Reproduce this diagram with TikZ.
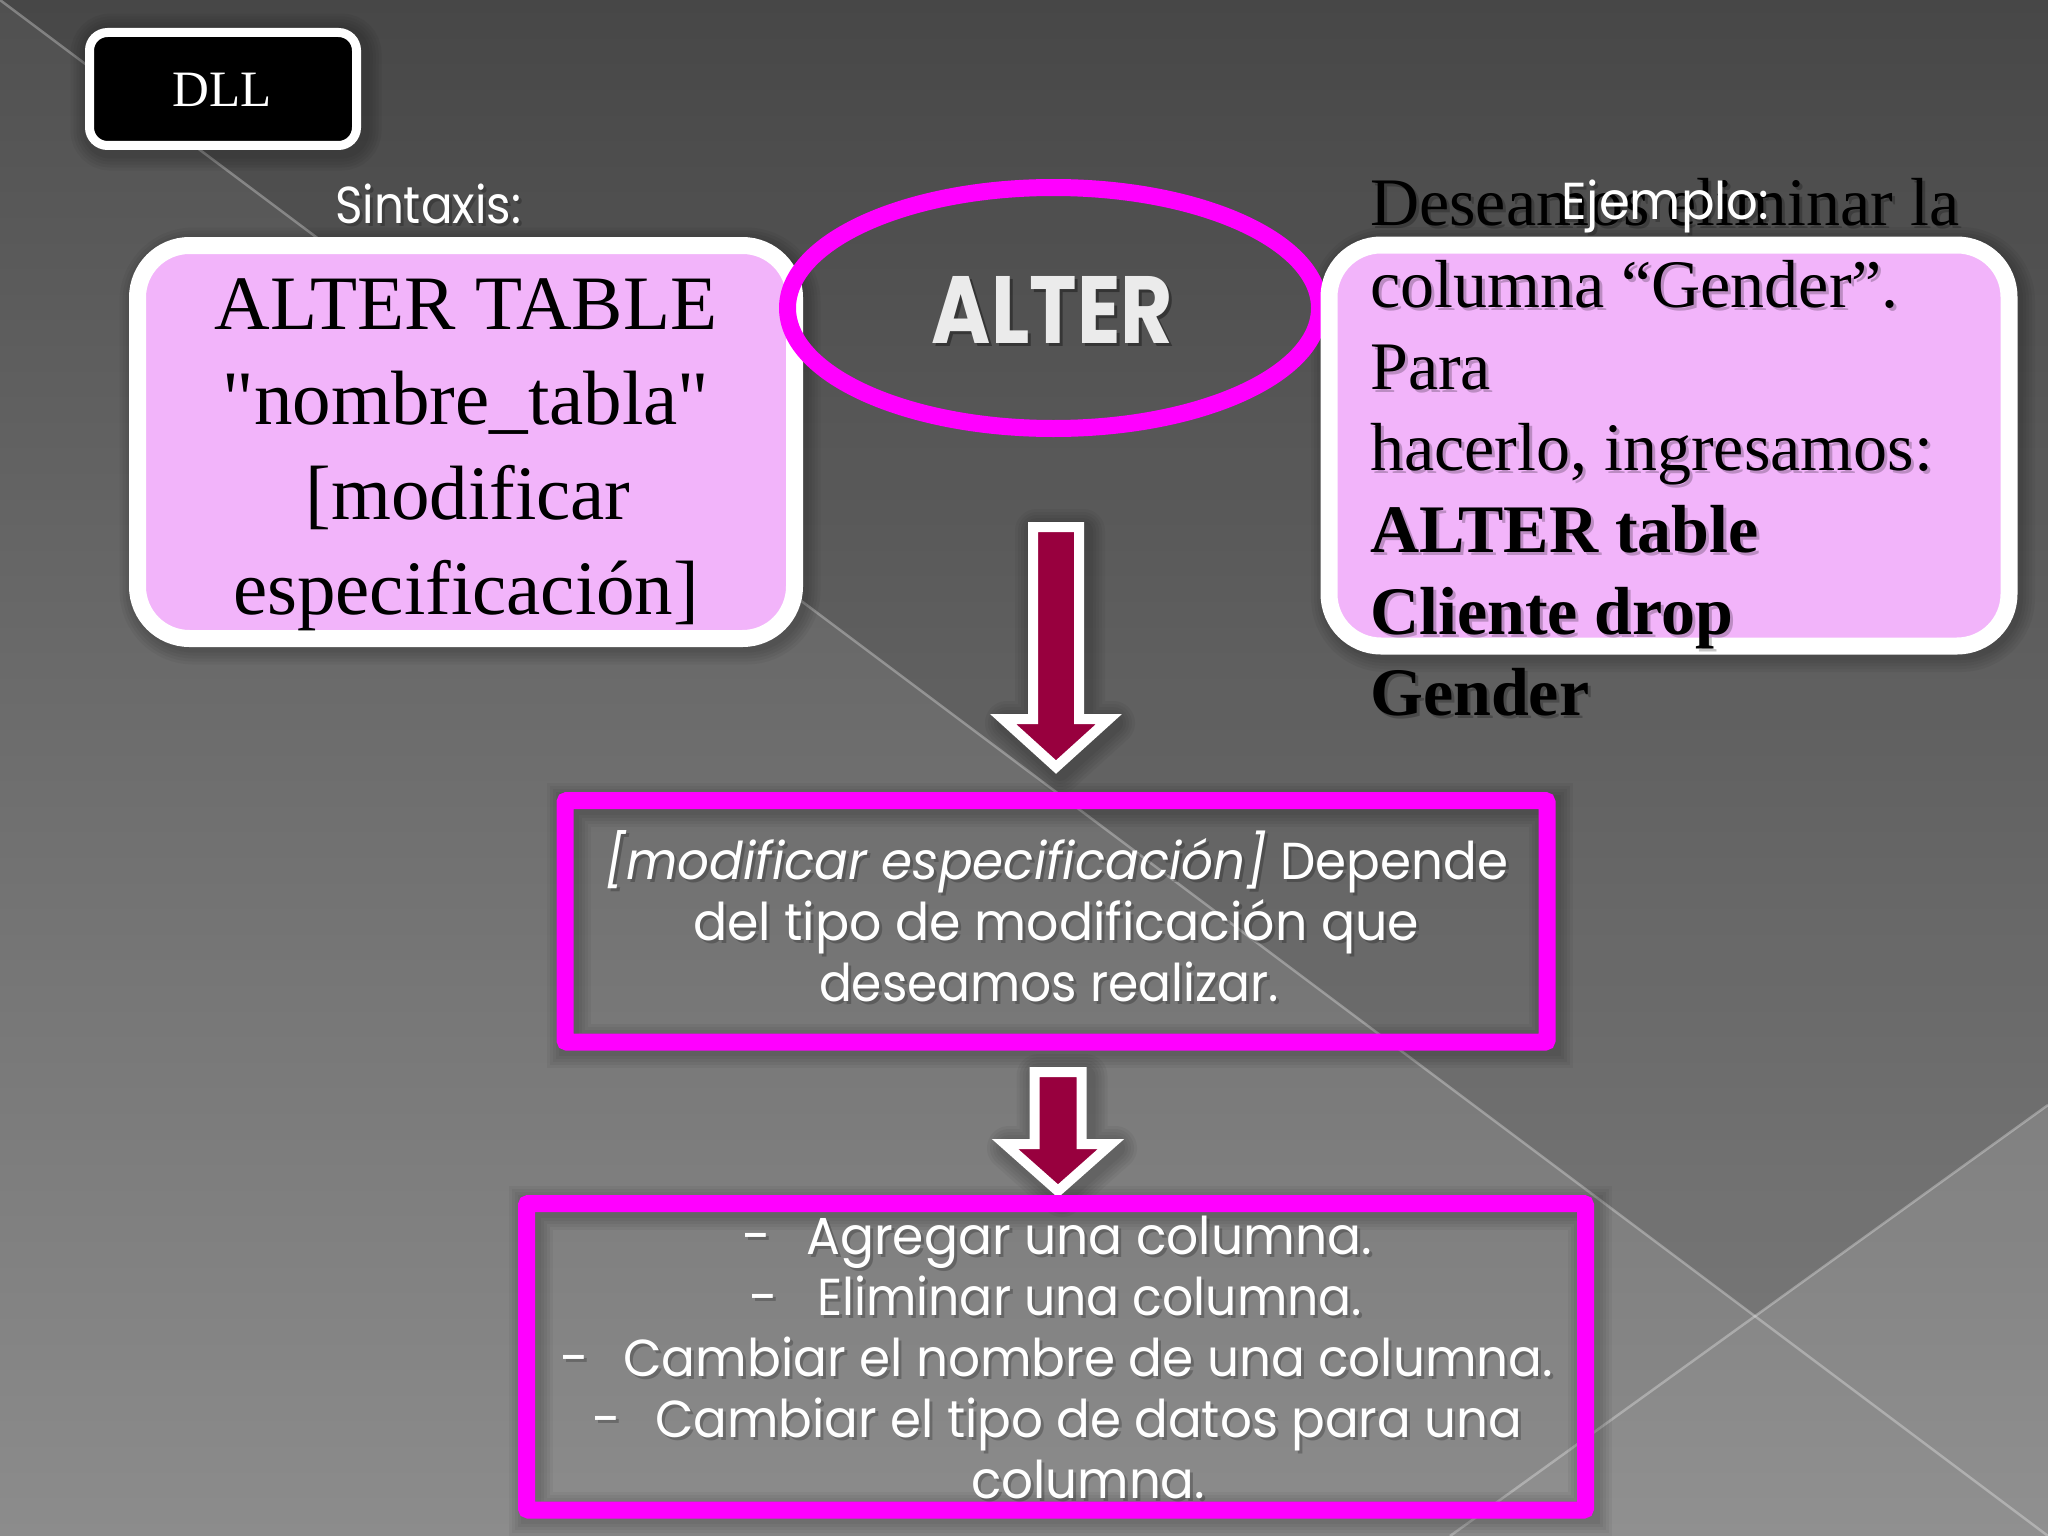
\documentclass[tikz,border=0pt]{standalone}
\usepackage{fontspec}
\usepackage{graphicx}
\setmainfont{Liberation Serif}
\newfontfamily\gothic{Poppins}
\usetikzlibrary{shapes.geometric}
\definecolor{pinkfill}{RGB}{242,180,250}
\definecolor{mag}{RGB}{255,0,255}
\definecolor{arrowred}{RGB}{152,0,62}
\definecolor{bgtop}{RGB}{80,80,80}
\definecolor{bgmid}{RGB}{104,104,104}
\definecolor{bgbot}{RGB}{140,140,140}
\newlength\tmpw
\newcommand\fitx[2]{\settowidth\tmpw{#2}\scalebox{\fpeval{#1/(\the\tmpw)}}[1]{#2}}
% text with a soft shadow: #1 style, #2 name, #3 x, #4 y, #5 text
\newcommand\shtext[5]{%
  \node[#1, text=black, opacity=0.22] (#2sh) at (#3+3,#4+3) {#5};
  \node[#1] (#2) at (#3,#4) {#5};}
\tikzset{
  pinkbox/.style={fill=pinkfill, draw=white, line width=17pt, rounded corners=52pt, inner sep=0pt},
  magbox/.style={draw=mag, line width=17pt, rounded corners=2pt, inner sep=0pt},
  blockarrow/.style={fill=arrowred, draw=white, line width=10pt, line join=miter},
  bgline/.style={draw=white, opacity=0.3, line width=2.5pt},
  softsh/.style={draw=black, opacity=0.045, line width=#1},
  serifbig/.style={inner sep=0pt, anchor=base, text=black, font=\fontsize{77pt}{92pt}\selectfont},
  serifmid/.style={inner sep=0pt, anchor=base west, text=black, font=\fontsize{68pt}{82pt}\selectfont},
  goth/.style={inner sep=0pt, text=white, font=\gothic\fontsize{52pt}{62pt}\selectfont},
}
\begin{document}
\begin{tikzpicture}[x=1pt,y=-1pt]
\useasboundingbox (0,0) rectangle (2048,1536);
% background
\shade[top color=bgtop, middle color=bgmid, bottom color=bgbot] (0,0) rectangle (2048,1536);
\fill[black, opacity=0.10] (0,0) -- (2048,0) -- (2048,1105) -- (1755,1316) -- cycle;
\fill[white, opacity=0.04] (1450,1536) -- (2048,1105) -- (2048,1536) -- cycle;
\draw[bgline] (0,0) -- (2048,1536);
\draw[bgline] (2048,1105) -- (1450,1536);

% soft shadows behind the shapes
\foreach \w in {20,26,32,38,44} {
  \draw[softsh=\w pt, rounded corners=18pt] (92.5,35.5) rectangle (359.5,148.5);
  \draw[softsh=\w pt, rounded corners=52pt] (141.5,249.5) rectangle (798.5,642.5);
  \draw[softsh=\w pt, rounded corners=52pt] (1333,249) rectangle (2013,650);
  \draw[softsh=\w pt] (569,804.5) rectangle (1551,1046);
  \draw[softsh=\w pt] (530.5,1207.5) rectangle (1589.5,1514);
  \draw[softsh=\w pt, line join=round] (1037,531) -- (1083,531) -- (1083,723) -- (1113,723) -- (1060,771) -- (1007,723) -- (1037,723) -- cycle;
  \draw[softsh=\w pt, line join=round] (1038.5,1076) -- (1085.5,1076) -- (1085.5,1148) -- (1115,1148) -- (1062,1195) -- (1009,1148) -- (1038.5,1148) -- cycle;
}

% DLL
\node[fill=black, draw=white, line width=9pt, rounded corners=18pt, minimum width=267pt, minimum height=113pt, inner sep=0pt] (dll) at (223,89) {};
\node[inner sep=0pt, anchor=base, text=white, font=\fontsize{51pt}{60pt}\selectfont] (dlltxt) at (222,107) {DLL};

% Sintaxis box
\shtext{goth, anchor=base}{sint}{428}{223}{\fitx{186}{Sintaxis:}}
\node[pinkbox, minimum width=657pt, minimum height=393pt] (syn) at (466,442) {};
\node[serifbig] (s1) at (466,329) {ALTER TABLE};
\node[serifbig] (s2) at (466,424) {\addfontfeatures{Ligatures=TeXOff}"nombre\_tabla"};
\node[serifbig] (s3) at (468,519) {[modificar};
\node[serifbig] (s4) at (466,614) {especificación]};

% ALTER ellipse
\node[ellipse, draw=mag, line width=17pt, minimum width=532pt, minimum height=241pt, inner sep=0pt] (alt) at (1053.5,308) {};
\node[inner sep=0pt, anchor=base, text=black, opacity=0.35] (altsh) at (1055.5,346) {\gothic\bfseries\resizebox{241pt}{67pt}{ALTER}};
\node[inner sep=0pt, anchor=base, text=white!92!black] (alttxt) at (1052.5,343) {\gothic\bfseries\resizebox{241pt}{67pt}{ALTER}};

% Ejemplo box
\node[pinkbox, minimum width=680pt, minimum height=401pt] (ej) at (1669,445.5) {};
\shtext{serifmid}{r1}{1370}{225}{Deseamos eliminar la}
\shtext{serifmid}{r2}{1370}{307}{columna “Gender”.}
\shtext{serifmid}{r3}{1370}{389}{Para}
\shtext{serifmid}{r4}{1370}{470}{hacerlo, ingresamos:}
\shtext{serifmid}{r5}{1370}{552}{\bfseries ALTER table}
\shtext{serifmid}{r6}{1370}{634}{\bfseries Cliente drop}
\shtext{serifmid}{r7}{1370}{715}{\bfseries Gender}
\shtext{goth, anchor=base west}{ejt}{1561}{219}{\fitx{208}{Ejemplo:}}

% arrow 1
\draw[blockarrow] (1033,527) -- (1079,527) -- (1079,719) -- (1109,719) -- (1056,767) -- (1003,719) -- (1033,719) -- cycle;

% box 2
\node[magbox, minimum width=982pt, minimum height=241.5pt] (mod) at (1056,921.25) {};
\shtext{goth, anchor=base}{m1}{1056.5}{879}{\fitx{903}{{\itshape [modificar especificación]} Depende}}
\shtext{goth, anchor=base}{m2}{1056}{940}{\fitx{726}{del tipo de modificación que}}
\shtext{goth, anchor=base}{m3}{1049}{1001}{\fitx{460}{deseamos realizar.}}

% arrow 2
\draw[blockarrow] (1034.5,1072) -- (1081.5,1072) -- (1081.5,1144) -- (1111,1144) -- (1058,1191) -- (1005,1144) -- (1034.5,1144) -- cycle;

% box 3
\node[magbox, minimum width=1059pt, minimum height=306.5pt] (ops) at (1056,1356.75) {};
\shtext{goth, anchor=base west}{d1}{742}{1254}{-}
\shtext{goth, anchor=base west}{c1}{806}{1254}{\fitx{566}{Agregar una columna.}}
\shtext{goth, anchor=base west}{d2}{749}{1315}{-}
\shtext{goth, anchor=base west}{c2}{817}{1315}{\fitx{545}{Eliminar una columna.}}
\shtext{goth, anchor=base west}{d3}{560}{1376}{-}
\shtext{goth, anchor=base west}{c3}{623}{1376}{\fitx{930}{Cambiar el nombre de una columna.}}
\shtext{goth, anchor=base west}{d4}{592}{1437}{-}
\shtext{goth, anchor=base west}{c4}{655}{1437}{\fitx{867}{Cambiar el tipo de datos para una}}
\shtext{goth, anchor=base west}{c5}{971}{1498}{\fitx{234}{columna.}}
\end{tikzpicture}
\end{document}
